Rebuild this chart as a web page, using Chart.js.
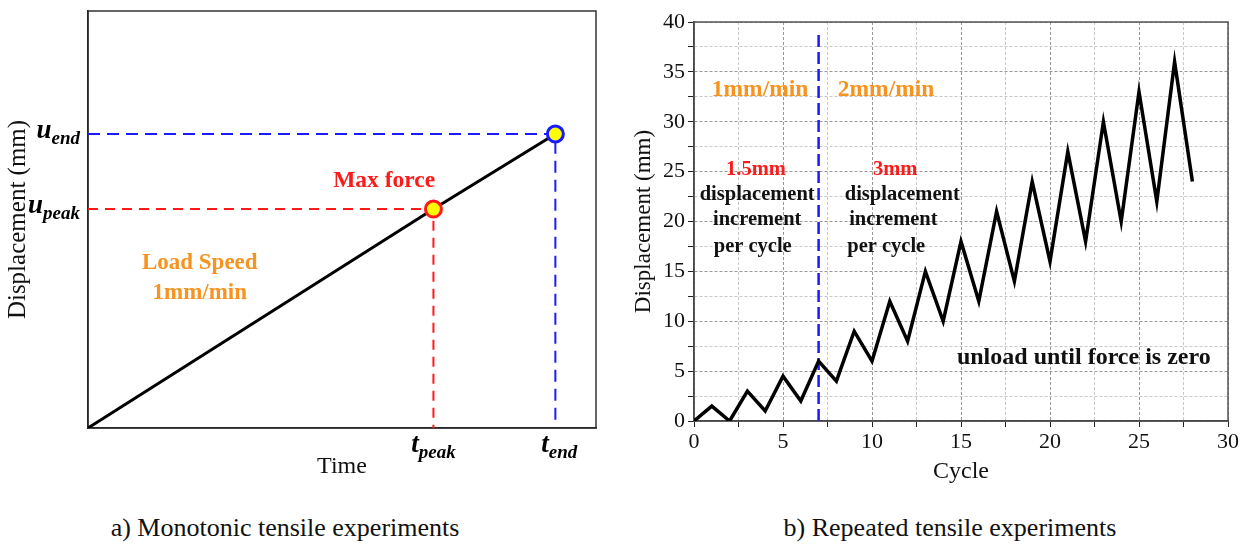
<!DOCTYPE html>
<html>
<head>
<meta charset="utf-8">
<script src="https://cdn.jsdelivr.net/npm/chart.js@4.4.0/dist/chart.umd.min.js"></script>
<style>
  body { margin: 0; background: #fff; width: 1250px; height: 548px; position: relative; overflow: hidden; font-family: "Liberation Serif", "Times New Roman", serif; }
  #mono { position: absolute; left: 0; top: 0; }
  #rep { position: absolute; left: 625px; top: 0; }
  .cap { position: absolute; top: 513px; width: 420px; text-align: center; font-size: 26px; line-height: 30px; color: #111; }
</style>
</head>
<body>
<canvas id="mono" width="620" height="490" style="width:620px;height:490px"></canvas>
<canvas id="rep" width="625" height="490" style="width:625px;height:490px"></canvas>
<div class="cap" style="left:75px">a) Monotonic tensile experiments</div>
<div class="cap" style="left:740px">b) Repeated tensile experiments</div>
<script>
// a) monotonic test: origin, max force point, end point
var monoTime = [0, 68, 92];
var monoDisp = [0, 52.5, 70.5];
var monoMarkerColors = ['#ff1a1a', '#1a1aff'];

// b) repeated test
var cycles = [0, 1, 2, 3, 4, 5, 6, 7, 8, 9, 10, 11, 12, 13, 14, 15, 16, 17, 18, 19, 20, 21, 22, 23, 24, 25, 26, 27, 28];
var cycleDisp = [0, 1.5, 0, 3, 1, 4.5, 2, 6, 4, 9, 6, 12, 8, 15, 10, 18, 12, 21, 14, 24, 16, 27, 18, 30, 20, 33, 22, 36, 24];
var speedChangeCycle = 7;
var speedChangeTop = 38.7;

var serif = '"Liberation Serif", "Times New Roman", serif';
var orange = '#f7931e';
var red = '#ff1a1a';
var blue = '#1a1aff';

function pts(xs, ys) {
  return xs.map(function (x, i) { return { x: x, y: ys[i] }; });
}

function text(ctx, s, x, y, size, color) {
  ctx.font = 'bold ' + size + 'px ' + serif;
  ctx.fillStyle = color;
  ctx.textAlign = 'center';
  ctx.textBaseline = 'middle';
  ctx.fillText(s, x, y);
}

// italic symbol with subscript, e.g. u_end
function subLabel(ctx, main, sub, x, y, align) {
  ctx.textBaseline = 'middle';
  ctx.textAlign = 'left';
  ctx.fillStyle = '#000';
  ctx.font = 'italic bold 27px ' + serif;
  var w1 = ctx.measureText(main).width;
  ctx.font = 'italic bold 19px ' + serif;
  var w2 = ctx.measureText(sub).width;
  var x0 = align === 'right' ? x - w1 - w2 : x - (w1 + w2) / 2;
  ctx.font = 'italic bold 27px ' + serif;
  ctx.fillText(main, x0, y);
  ctx.font = 'italic bold 19px ' + serif;
  ctx.fillText(sub, x0 + w1, y + 8);
}

var boxPlugin = {
  id: 'box',
  beforeDatasetsDraw: function (chart, args, opts) {
    var a = chart.chartArea, ctx = chart.ctx;
    ctx.save();
    ctx.strokeStyle = opts.color;
    ctx.lineWidth = 1.5;
    ctx.strokeRect(a.left, a.top, a.right - a.left, a.bottom - a.top);
    ctx.restore();
  }
};

var peak = 1, end = 2;

new Chart(document.getElementById('mono'), {
  type: 'line',
  data: {
    datasets: [
      {
        data: pts([monoTime[peak]], [monoDisp[peak]]),
        showLine: false,
        pointRadius: 8,
        pointBorderWidth: 3,
        pointBackgroundColor: '#ffff00',
        pointBorderColor: monoMarkerColors[0],
        order: 0, clip: false
      },
      {
        data: pts([monoTime[end]], [monoDisp[end]]),
        showLine: false,
        pointRadius: 8,
        pointBorderWidth: 3,
        pointBackgroundColor: '#ffff00',
        pointBorderColor: monoMarkerColors[1],
        order: 0, clip: false
      },
      {
        data: pts(monoTime, monoDisp),
        borderColor: '#000',
        borderWidth: 3,
        pointRadius: 0,
        order: 1
      },
      {
        data: pts([0, monoTime[peak], monoTime[peak]], [monoDisp[peak], monoDisp[peak], 0]),
        borderColor: red,
        borderWidth: 2,
        borderDash: [10, 7],
        pointRadius: 0,
        order: 2
      },
      {
        data: pts([0, monoTime[end], monoTime[end]], [monoDisp[end], monoDisp[end], 2]),
        borderColor: blue,
        borderWidth: 2,
        borderDash: [12, 7],
        pointRadius: 0,
        order: 2
      }
    ]
  },
  options: {
    responsive: false,
    animation: false,
    layout: { padding: { top: 10, right: 24 } },
    plugins: {
      legend: { display: false },
      tooltip: { enabled: false },
      box: { color: '#333' }
    },
    scales: {
      x: {
        type: 'linear', min: 0, max: 100,
        ticks: { display: false },
        grid: { display: false },
        border: { color: '#000', width: 1.5 },
        title: { display: true, text: 'Time', color: '#111', font: { family: serif, size: 24 }, padding: { bottom: 9 } },
        afterFit: function (s) { s.height = 62; }
      },
      y: {
        type: 'linear', min: 0, max: 100,
        ticks: { display: false },
        grid: { display: false },
        border: { color: '#000', width: 1.5 },
        title: { display: true, text: 'Displacement (mm)', color: '#111', font: { family: serif, size: 25 }, padding: { top: 3 } },
        afterFit: function (s) { s.width = 88; }
      }
    }
  },
  plugins: [boxPlugin, {
    id: 'monoText',
    afterDatasetsDraw: function (chart) {
      var ctx = chart.ctx, x = chart.scales.x, y = chart.scales.y;
      ctx.save();
      text(ctx, 'Max force', x.getPixelForValue(58.3), y.getPixelForValue(59.3), 23.5, red);
      text(ctx, 'Load Speed', x.getPixelForValue(22), y.getPixelForValue(39.5), 23, orange);
      text(ctx, '1mm/min', x.getPixelForValue(22), y.getPixelForValue(32.3), 23, orange);
      subLabel(ctx, 'u', 'end', x.left - 8, y.getPixelForValue(monoDisp[end]) - 3, 'right');
      subLabel(ctx, 'u', 'peak', x.left - 8, y.getPixelForValue(monoDisp[peak]) - 3, 'right');
      subLabel(ctx, 't', 'peak', x.getPixelForValue(monoTime[peak]), y.bottom + 17, 'center');
      subLabel(ctx, 't', 'end', x.getPixelForValue(monoTime[end]) + 4, y.bottom + 17, 'center');
      ctx.restore();
    }
  }]
});

var tickFont = { family: serif, size: 22 };
function majorOnly(v) { return v % 5 === 0 ? v : ''; }
function gridColor(c) { return c.tick && c.tick.value % 5 === 0 ? '#999' : '#c8c8c8'; }

new Chart(document.getElementById('rep'), {
  type: 'line',
  data: {
    datasets: [
      {
        data: pts(cycles, cycleDisp),
        borderColor: '#000',
        borderWidth: 3.5,
        pointRadius: 0,
        order: 0
      },
      {
        data: pts([speedChangeCycle, speedChangeCycle], [0, speedChangeTop]),
        borderColor: blue,
        borderWidth: 2.5,
        borderDash: [12, 5],
        pointRadius: 0,
        order: 1
      }
    ]
  },
  options: {
    responsive: false,
    animation: false,
    layout: { padding: { top: 22, right: 22 } },
    plugins: {
      legend: { display: false },
      tooltip: { enabled: false },
      box: { color: '#555' }
    },
    scales: {
      x: {
        type: 'linear', min: 0, max: 30,
        ticks: { stepSize: 2.5, callback: majorOnly, font: tickFont, color: '#111', padding: 2, maxRotation: 0, autoSkip: false },
        grid: { color: gridColor, tickColor: '#222', tickLength: 6 },
        border: { color: '#222', width: 1.5, dash: [3, 2] },
        title: { display: true, text: 'Cycle', color: '#111', font: { family: serif, size: 24 }, padding: { bottom: 4 } },
        afterFit: function (s) { s.height = 69; }
      },
      y: {
        type: 'linear', min: 0, max: 40,
        ticks: { stepSize: 2.5, callback: majorOnly, font: tickFont, color: '#111', padding: 3, autoSkip: false },
        grid: { color: gridColor, tickColor: '#222', tickLength: 6 },
        border: { color: '#222', width: 1.5, dash: [3, 2] },
        title: { display: true, text: 'Displacement (mm)', color: '#111', font: { family: serif, size: 23 }, padding: { top: 5 } },
        afterFit: function (s) { s.width = 69; }
      }
    }
  },
  plugins: [boxPlugin, {
    id: 'repText',
    afterDatasetsDraw: function (chart) {
      var ctx = chart.ctx, x = chart.scales.x, y = chart.scales.y;
      function at(s, cx, cy, size, color) { text(ctx, s, x.getPixelForValue(cx), y.getPixelForValue(cy), size, color); }
      ctx.save();
      at('1mm/min', 3.71, 33.2, 23.5, orange);
      at('2mm/min', 10.79, 33.2, 23.5, orange);
      at('1.5mm', 3.48, 25.2, 20.5, red);
      at('displacement', 3.55, 22.7, 20.5, '#111');
      at('increment', 3.55, 20.2, 20.5, '#111');
      at('per cycle', 3.3, 17.5, 20.5, '#111');
      at('3mm', 11.3, 25.2, 20.5, red);
      at('displacement', 11.7, 22.7, 20.5, '#111');
      at('increment', 11.2, 20.2, 20.5, '#111');
      at('per cycle', 10.8, 17.5, 20.5, '#111');
      at('unload until force is zero', 21.9, 6.3, 24, '#111');
      ctx.restore();
    }
  }]
});
</script>
</body>
</html>
